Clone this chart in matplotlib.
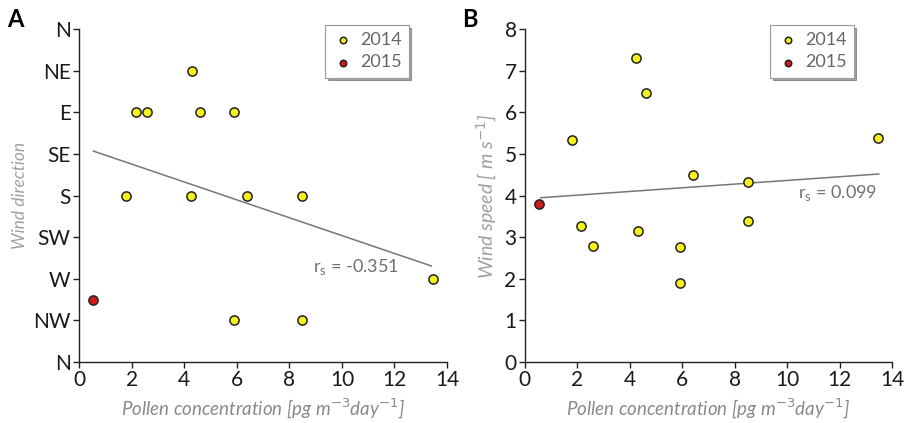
import matplotlib
matplotlib.use("Agg")
import matplotlib.pyplot as plt

plt.rcParams['font.family'] = ['Lato', 'DejaVu Sans']

# pollen concentration, 2014 days
pollen_2014 = [1.8, 2.15, 2.6, 4.25, 4.3, 4.6, 5.9, 5.9, 6.4, 8.5, 8.5, 13.45]
# wind direction as index: 0=N, 1=NW, 2=W, 3=SW, 4=S, 5=SE, 6=E, 7=NE, 8=N
direction_2014 = [4, 6, 6, 4, 7, 6, 6, 1, 4, 4, 1, 2]
speed_2014 = [5.33, 3.28, 2.78, 7.3, 3.15, 6.47, 2.77, 1.9, 4.5, 4.33, 3.38, 5.38]

pollen_2015 = [0.55]
direction_2015 = [1.5]
speed_2015 = [3.8]

direction_labels = ['N', 'NW', 'W', 'SW', 'S', 'SE', 'E', 'NE', 'N']

# regression lines (start, end)
trend_a_x = [0.55, 13.4]
trend_a_y = [5.07, 2.31]
trend_b_x = [0.6, 13.5]
trend_b_y = [3.95, 4.52]

fig = plt.figure(figsize=(9.05, 4.23), dpi=100)
ax_a = fig.add_axes([0.0873, 0.144, 0.4067, 0.787])
ax_b = fig.add_axes([0.580, 0.144, 0.4056, 0.787])

gray = '#707070'


def style_axes(ax):
    for side in ['top', 'right']:
        ax.spines[side].set_visible(False)
    for side in ['left', 'bottom']:
        ax.spines[side].set_linewidth(1.0)
        ax.spines[side].set_color('#222222')
    ax.tick_params(direction='out', length=4, width=1.0, color='#222222',
                   labelsize=15, labelcolor='#1a1a1a', pad=2)
    ax.set_xlim(0, 14)
    ax.set_xticks(range(0, 15, 2))
    ax.set_xlabel('Pollen concentration [pg m$^{-3}$day$^{-1}$]',
                  fontsize=13.5, style='italic', color='#8a8a8a', labelpad=5)


def scatter_points(ax, y14, y15):
    ax.scatter(pollen_2014, y14, s=44, c='#f5f01e', edgecolors='#222222',
               linewidths=1.1, zorder=3, label='2014', clip_on=False)
    ax.scatter(pollen_2015, y15, s=44, c='#d21a1a', edgecolors='#222222',
               linewidths=1.1, zorder=3, label='2015', clip_on=False)
    leg = ax.legend(loc='upper right', bbox_to_anchor=(0.92, 1.04), fontsize=13,
                    frameon=True, fancybox=False, shadow=True, markerscale=0.7,
                    handletextpad=0.3, borderpad=0.4, labelspacing=0.35,
                    handlelength=1.2)
    leg.get_frame().set_edgecolor('#999999')
    leg.get_frame().set_linewidth(0.8)
    for t in leg.get_texts():
        t.set_color('#666666')


# panel A
style_axes(ax_a)
ax_a.set_ylim(0, 8)
ax_a.set_yticks(range(9))
ax_a.set_yticklabels(direction_labels)
ax_a.set_ylabel('Wind direction', fontsize=12.5, style='italic', color='#a0a0a0',
                labelpad=4)
ax_a.plot(trend_a_x, trend_a_y, color='#777777', lw=1.1, zorder=2)
scatter_points(ax_a, direction_2014, direction_2015)
ax_a.text(8.9, 2.29, 'r$_\\mathregular{s}$ = -0.351', fontsize=13, color=gray,
          ha='left', va='center')

# panel B
style_axes(ax_b)
ax_b.set_ylim(0, 8)
ax_b.set_yticks(range(9))
ax_b.set_ylabel('Wind speed [ m s$^{-1}$]', fontsize=14, style='italic',
                color='#a0a0a0', labelpad=4)
ax_b.plot(trend_b_x, trend_b_y, color='#777777', lw=1.1, zorder=2)
scatter_points(ax_b, speed_2014, speed_2015)
ax_b.text(13.45, 4.06, 'r$_\\mathregular{s}$ = 0.099', fontsize=13, color=gray,
          ha='right', va='center')

fig.text(0.008, 0.935, 'A', fontsize=17, fontweight='bold')
fig.text(0.511, 0.935, 'B', fontsize=17, fontweight='bold')

fig.savefig('out.png', dpi=100)
